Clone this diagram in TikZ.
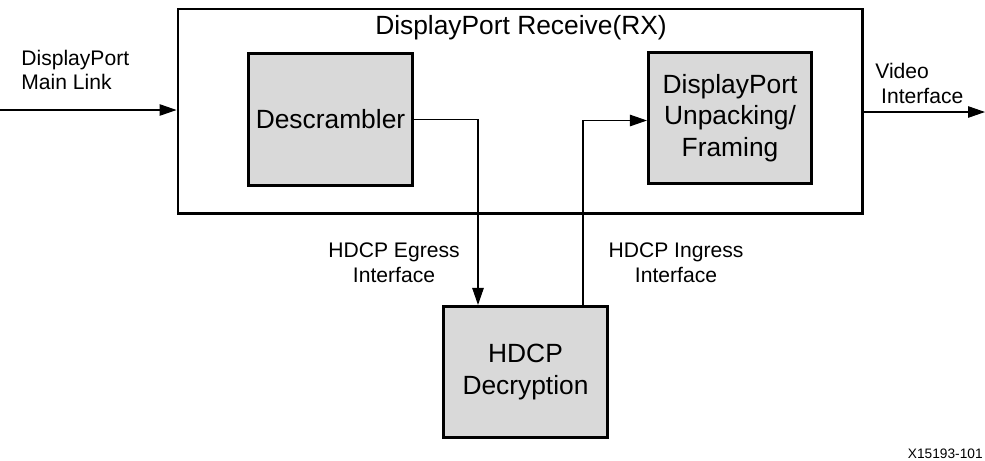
\documentclass[tikz,border=0pt]{standalone}
\usepackage{fontspec}
\setmainfont{Liberation Sans}
\usetikzlibrary{arrows.meta, positioning, calc}
\tikzset{
  rxbox/.style = {draw, line width=1.7pt, minimum width=13.68cm, minimum height=4.08cm, inner sep=0pt},
  blk/.style   = {draw, line width=1.5pt, fill=black!15, minimum width=3.27cm, minimum height=2.63cm,
                  inner sep=0pt, align=center, font=\fontsize{15}{18}\selectfont},
  sig/.style   = {-{Triangle[length=3.4mm, width=2.3mm]}, line width=0.6pt},
  ttl/.style   = {font=\fontsize{15}{18}\selectfont, inner sep=0pt},
  lbl/.style   = {font=\fontsize{12}{14}\selectfont, align=center, inner sep=0pt},
  tag/.style   = {font=\fontsize{7.8}{9}\selectfont, inner sep=0pt}
}
\begin{document}
\begin{tikzpicture}
\useasboundingbox (0,0) rectangle (19.7,-9.2);
%% ===== receiver =====
\node[rxbox] (rx) at (10.40,-2.22) {};
\node[ttl] (title) at (10.42,-0.56) {DisplayPort Receive(RX)};
\node[blk] (desc) at (6.61,-2.39) {Descrambler};
\node[blk] (unpack) at (14.60,-2.36) {DisplayPort\\Unpacking/\\Framing};
%% ===== decryption =====
\node[blk] (hdcp) at (10.51,-7.44) {HDCP\\Decryption};
% main link in, video out
\coordinate (mlink) at (0,-2.20);
\coordinate (vout) at (19.7,-2.24);
\draw[sig] (mlink) -- (mlink -| rx.west);
\draw[sig] (vout -| rx.east) -- (vout);
\node[lbl, anchor=west, align=left] (mlinklbl) at (0.42,-1.40) {DisplayPort\\Main Link};
\node[lbl, anchor=west, align=left] (voutlbl) at (17.5,-1.67) {Video\\\ Interface};
% egress / ingress
\draw[sig] (desc.east) -| ([xshift=-9.5mm]hdcp.north);
\draw[sig] ([xshift=11.5mm]hdcp.north) |- ([yshift=-0.5mm]unpack.west);
\node[lbl] (eglbl) at (7.88,-5.26) {HDCP Egress\\Interface};
\node[lbl] (inlbl) at (13.52,-5.26) {HDCP Ingress\\Interface};
\node[tag, anchor=east] (fig) at (19.66,-9.08) {X15193-101};
\end{tikzpicture}
\end{document}
